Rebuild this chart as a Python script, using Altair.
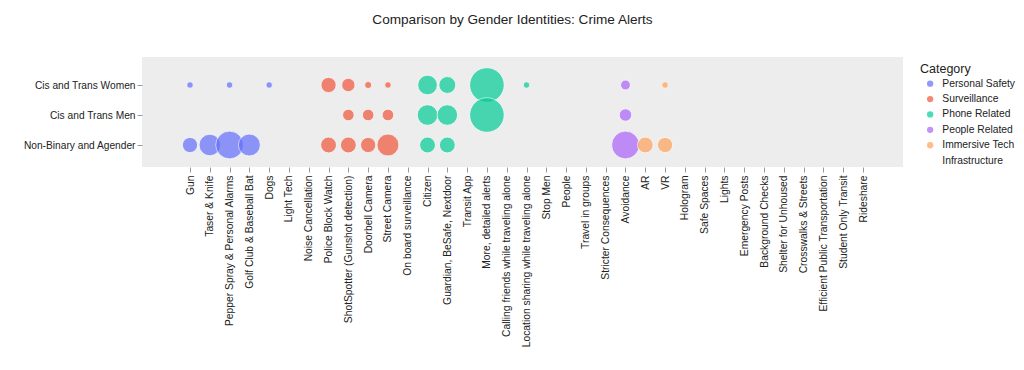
import altair as alt
import pandas as pd

categories = [
    "Gun", "Taser & Knife", "Pepper Spray & Personal Alarms", "Golf Club & Baseball Bat",
    "Dogs", "Light Tech", "Noise Cancellation",
    "Police Block Watch", "ShotSpotter (Gunshot detection)", "Doorbell Camera",
    "Street Camera", "On board surveillance",
    "Citizen", "Guardian, BeSafe, Nextdoor", "Transit App", "More, detailed alerts",
    "Calling friends while traveling alone", "Location sharing while traveling alone",
    "Stop Men", "People", "Travel in groups", "Stricter Consequences", "Avoidance",
    "AR", "VR", "Hologram",
    "Safe Spaces", "Lights", "Emergency Posts", "Background Checks",
    "Shelter for Unhoused", "Crosswalks & Streets", "Efficient Public Transportation",
    "Student Only Transit", "Rideshare",
]
groups = (["Personal Safety"] * 7 + ["Surveillance"] * 5 + ["Phone Related"] * 6
          + ["People Related"] * 5 + ["Immersive Tech"] * 3 + ["Infrastructure"] * 9)

genders = ["Cis and Trans Women", "Cis and Trans Men", "Non-Binary and Agender"]

N = None
women = [1.1, N, 1.1, N, 1.1, N, N,
         6, 4.6, 1.3, 1.1, N,
         10, 7.4, N, 31, N, 1.1,
         N, N, N, N, 2.5,
         N, 1.15, N,
         N, N, N, N, N, N, N, N, N]
men = [N, N, N, N, N, N, N,
       N, 3.5, 3.5, 3.5, N,
       11, 11, N, 31, N, N,
       N, N, N, N, 4,
       N, N, N,
       N, N, N, N, N, N, N, N, N]
nonbinary = [6, 12, 20, 12.5, N, N, N,
             6.5, 6.5, 6, 12.5, N,
             6.5, 6.5, N, N, N, N,
             N, N, N, N, 20,
             6.5, 6, N,
             N, N, N, N, N, N, N, N, N]

legend_order = ["Personal Safety", "Surveillance", "Phone Related",
                "People Related", "Immersive Tech", "Infrastructure"]
palette = ["#636EFA", "#EF553B", "#00CC96", "#AB63FA", "#FFA15A", "transparent"]

rows = []
for g, vals in zip(genders, [women, men, nonbinary]):
    for c, grp, v in zip(categories, groups, vals):
        if v is not None:
            rows.append({"Gender": g, "Item": c, "Category": grp, "Value": v})
df = pd.DataFrame(rows)

FONT = "Liberation Sans"

chart = alt.Chart(df).mark_circle(
    opacity=0.7, stroke="white", strokeWidth=0.8
).encode(
    x=alt.X("Item:N", sort=categories, title=None,
            scale=alt.Scale(type="point", domain=categories, range=[48, 721], padding=0),
            axis=alt.Axis(labelAngle=-90, labelFontSize=10.3, labelPadding=3,
                          labelColor="#222", tickColor="#999", tickSize=5,
                          domain=False, gridColor="white", gridWidth=1,
                          labelFont=FONT)),
    y=alt.Y("Gender:N", sort=genders, title=None,
            scale=alt.Scale(type="point", domain=genders, range=[28, 88], padding=0),
            axis=alt.Axis(labelFontSize=10.2, labelPadding=2, labelColor="#222",
                          tickColor="#999", tickSize=5, domain=False,
                          gridColor="white", gridWidth=1, labelFont=FONT)),
    size=alt.Size("Value:Q", scale=alt.Scale(domain=[0, 31], range=[0, 1195]),
                  legend=None),
    color=alt.Color("Category:N",
                    scale=alt.Scale(domain=legend_order, range=palette),
                    legend=alt.Legend(
                        title="Category", orient="none", legendX=778, legendY=6,
                        titleFontSize=12.5, titleFontWeight="normal", titleColor="#222",
                        titleFont=FONT, labelFont=FONT, labelFontSize=10.3,
                        labelColor="#222", symbolType="circle", symbolSize=40,
                        symbolOffset=5, labelOffset=7, rowPadding=4.4,
                        titlePadding=3, symbolOpacity=0.7, symbolStrokeWidth=0)),
    tooltip=["Gender", "Item", "Category", "Value"],
).properties(
    width=761, height=110,
    title=alt.TitleParams("Comparison by Gender Identities: Crime Alerts",
                          fontSize=13.6, font=FONT, fontWeight="normal",
                          color="#222", anchor="middle", dx=-10, offset=30),
    autosize=alt.AutoSizeParams(type="none"),
    padding={"left": 134, "top": 49, "right": 113, "bottom": 190},
).configure_view(fill="#EDEDED", stroke=None)

chart.save("out.html", embed_options={"renderer": "svg", "actions": False})
